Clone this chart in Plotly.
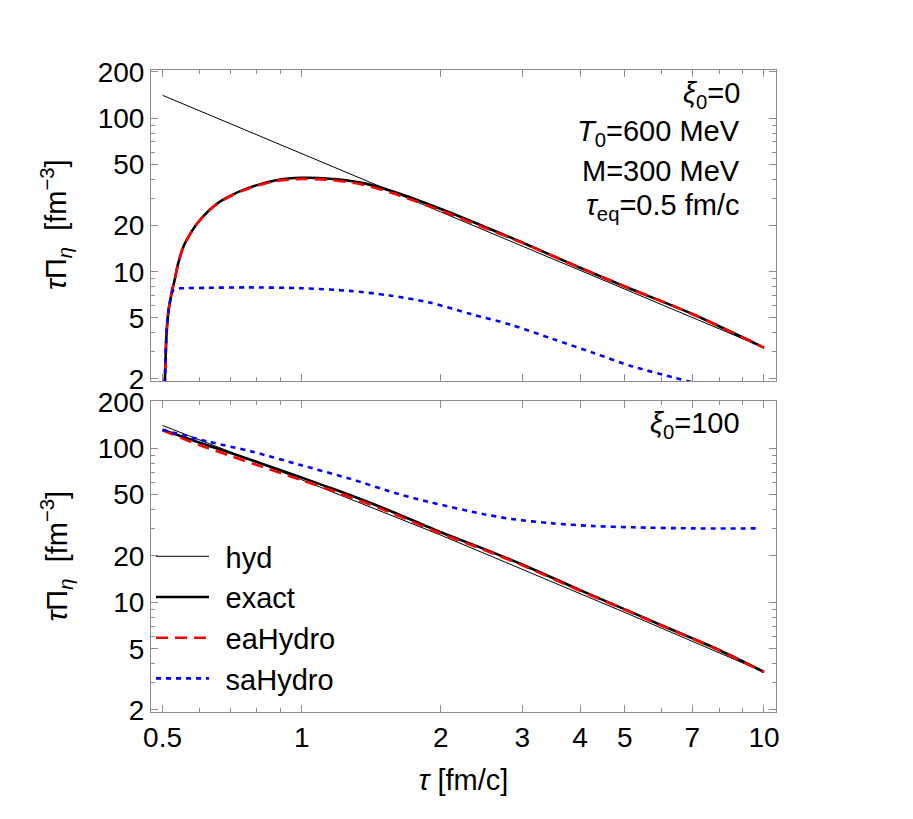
import plotly.graph_objects as go
import math

# ---------------- data ----------------
# top panel: xi0 = 0
tau_hyd_top = [0.5, 1.0, 2.0, 5.0, 10.0]
hyd_top = [141.0, 59.0, 24.5, 7.7, 3.2]

tau_exact_top = [0.5005, 0.503, 0.506, 0.509, 0.512, 0.516, 0.52, 0.525, 0.53, 0.54, 0.555, 0.58, 0.6,
                 0.65, 0.7, 0.77, 0.88, 1.0, 1.15, 1.35, 1.6, 2.0, 2.5, 3.0, 4.0, 5.0, 7.0, 10.0]
exact_top = [0.17, 1.0, 2.0, 3.5, 4.7, 5.8, 6.6, 7.7, 8.6, 11.2, 14.6, 18.6, 21.4,
             27.2, 31.2, 35.3, 39.4, 40.9, 40.3, 37.9, 32.8, 25.6, 19.5, 15.5, 10.6, 8.0, 5.3, 3.2]
ea_top = [0.17, 1.0, 2.0, 3.5, 4.7, 5.8, 6.6, 7.7, 8.6, 11.2, 14.6, 18.6, 21.4,
          27.1, 31.0, 35.0, 39.0, 40.2, 39.6, 37.0, 31.9, 25.0, 19.2, 15.4, 10.6, 8.0, 5.3, 3.2]

tau_sa_top = [0.5005, 0.503, 0.506, 0.509, 0.512, 0.516, 0.52, 0.524, 0.528, 0.535, 0.55, 0.626,
              0.766, 1.0, 1.27, 1.55, 1.89, 2.32, 2.84, 3.48, 4.26, 5.2, 6.37, 7.0, 8.0, 10.0]
sa_top = [0.17, 1.0, 2.0, 3.5, 4.7, 5.8, 6.6, 7.3, 7.6, 7.75, 7.8, 7.85,
          7.9, 7.8, 7.5, 7.0, 6.3, 5.3, 4.5, 3.66, 2.97, 2.41, 2.05, 1.9, 1.7, 1.4]

# bottom panel: xi0 = 100
tau_hyd_bot = [0.5, 1.0, 2.0, 5.0, 10.0]
hyd_bot = [140.7, 62.5, 27.3, 8.6, 3.53]

tau_bot = [0.5, 0.6, 0.7, 0.8, 1.0, 1.2, 1.5, 2.0, 2.5, 3.0, 4.0, 5.0, 6.0, 7.0, 8.0, 10.0]
exact_bot = [132, 109, 93.5, 81.5, 64.5, 53, 41, 28.5, 22.0, 17.6, 12.0, 9.0, 7.1, 5.83, 4.9, 3.53]
ea_bot = [131, 105, 89.5, 78.0, 62.0, 51.5, 40.0, 28.0, 21.7, 17.4, 11.9, 8.95, 7.08, 5.81, 4.88, 3.53]

tau_sa_bot = [0.5, 0.627, 0.782, 0.995, 1.267, 1.613, 1.896, 2.46, 2.84, 3.47, 4.26, 5.2, 7.0, 9.8]
sa_bot = [131.9, 110.6, 95.1, 77.8, 63.6, 50.7, 44.7, 37.5, 34.8, 32.6, 31.3, 30.7, 30.2, 30.2]

x_ticks = [0.5, 1, 2, 3, 4, 5, 7, 10]
x_ticktext = ["0.5", "1", "2", "3", "4", "5", "7", "10"]
x_minor = [0.6, 0.7, 0.8, 0.9, 6, 8, 9]
y_ticks = [2, 5, 10, 20, 50, 100, 200]
y_ticktext = ["2", "5", "10", "20", "50", "100", "200"]
y_minor = [3, 4, 6, 7, 8, 9, 30, 40, 60, 70, 80, 90]

# ---------------- styles ----------------
FONT = "Liberation Sans, Arial, sans-serif"
FS = 29
FT = 28
GRAY = "#8c8c8c"
HYD = dict(color="black", width=1)
EXACT = dict(color="black", width=2.6, shape="spline", smoothing=0.8)
EA = dict(color="#ff0000", width=2.6, dash="12px,7px", shape="spline", smoothing=0.8)
SA = dict(color="#0000ff", width=2.6, dash="5px,5px", shape="spline", smoothing=0.8)

fig = go.Figure()

def add(tx, vy, line, name, ax, show):
    fig.add_trace(go.Scatter(x=tx, y=vy, mode="lines", line=line, name=name,
                             xaxis=ax[0], yaxis=ax[1], showlegend=show))

add(tau_hyd_top, hyd_top, HYD, "hyd", ("x", "y"), False)
add(tau_exact_top, exact_top, EXACT, "exact", ("x", "y"), False)
add(tau_exact_top, ea_top, EA, "eaHydro", ("x", "y"), False)
add(tau_sa_top, sa_top, SA, "saHydro", ("x", "y"), False)

SP = "\u2009\u2009"
add(tau_hyd_bot, hyd_bot, HYD, SP + "hyd", ("x2", "y2"), True)
add(tau_bot, exact_bot, EXACT, SP + "exact", ("x2", "y2"), True)
add(tau_bot, ea_bot, EA, SP + "eaHydro", ("x2", "y2"), True)
add(tau_sa_bot, sa_bot, SA, SP + "saHydro", ("x2", "y2"), True)

xr = [math.log10(0.5) - 0.025, 1.026]

def xaxis(anchor, labels):
    return dict(type="log", range=xr, domain=[0, 1], anchor=anchor,
                tickvals=x_ticks, ticktext=x_ticktext, showticklabels=labels,
                ticks="inside", ticklen=7, tickwidth=1, tickcolor=GRAY,
                minor=dict(tickvals=x_minor, ticks="inside", ticklen=4, tickcolor=GRAY, showgrid=False),
                showline=True, linecolor=GRAY, linewidth=1, mirror="ticks",
                showgrid=False, zeroline=False,
                tickfont=dict(family=FONT, size=FT, color="black"))

def yaxis(anchor, rng, dom):
    return dict(type="log", range=rng, domain=dom, anchor=anchor,
                tickvals=y_ticks, ticktext=y_ticktext,
                ticks="inside", ticklen=7, tickwidth=1, tickcolor=GRAY,
                minor=dict(tickvals=y_minor, ticks="inside", ticklen=4, tickcolor=GRAY, showgrid=False),
                showline=True, linecolor=GRAY, linewidth=1, mirror="ticks",
                showgrid=False, zeroline=False,
                tickfont=dict(family=FONT, size=FT, color="black"))

xa2 = xaxis("y2", True)
xa2["title"] = dict(text="<i>τ</i> [fm/c]", font=dict(family=FONT, size=FS, color="black"), standoff=18)

fig.update_layout(
    width=913, height=819,
    margin=dict(l=143, r=145, t=62, b=115),
    paper_bgcolor="white", plot_bgcolor="white",
    font=dict(family=FONT, size=FS, color="black"),
    xaxis=xaxis("y", False),
    xaxis2=xa2,
    yaxis=yaxis("x", [0.288, 2.314], [0.5156, 1.0]),
    yaxis2=yaxis("x2", [0.288, 2.307], [0.0, 0.4844]),
    legend=dict(x=0.0, y=0.282, xanchor="left", yanchor="top",
                bgcolor="rgba(0,0,0,0)", itemwidth=53, tracegroupgap=0,
                font=dict(family=FONT, size=FS, color="black")),
)

ytitle = "<i>τ</i>Π<sub><i>η</i></sub>  [fm<sup>−3</sup>]"
for yc in [0.7586, 0.2422]:
    fig.add_annotation(text=ytitle, xref="paper", yref="paper", x=-0.152, y=yc,
                       textangle=-90, showarrow=False, xanchor="center", yanchor="middle",
                       font=dict(family=FONT, size=FS, color="black"))

notes_top = [("<i>ξ</i><sub>0</sub>=0", 87), ("<i>T</i><sub>0</sub>=600 MeV", 125),
             ("M=300 MeV", 163), ("<i>τ</i><sub>eq</sub>=0.5 fm/c", 199)]
H = 642.0
for txt, ypx in notes_top:
    fig.add_annotation(text=txt, xref="paper", yref="paper", x=0.9456, y=(704 - ypx) / H,
                       showarrow=False, xanchor="right", yanchor="middle",
                       font=dict(family=FONT, size=FS, color="black"))
fig.add_annotation(text="<i>ξ</i><sub>0</sub>=100", xref="paper", yref="paper", x=0.9456,
                   y=(704 - 417) / H, showarrow=False, xanchor="right", yanchor="middle",
                   font=dict(family=FONT, size=FS, color="black"))

fig.write_html("out.html")
